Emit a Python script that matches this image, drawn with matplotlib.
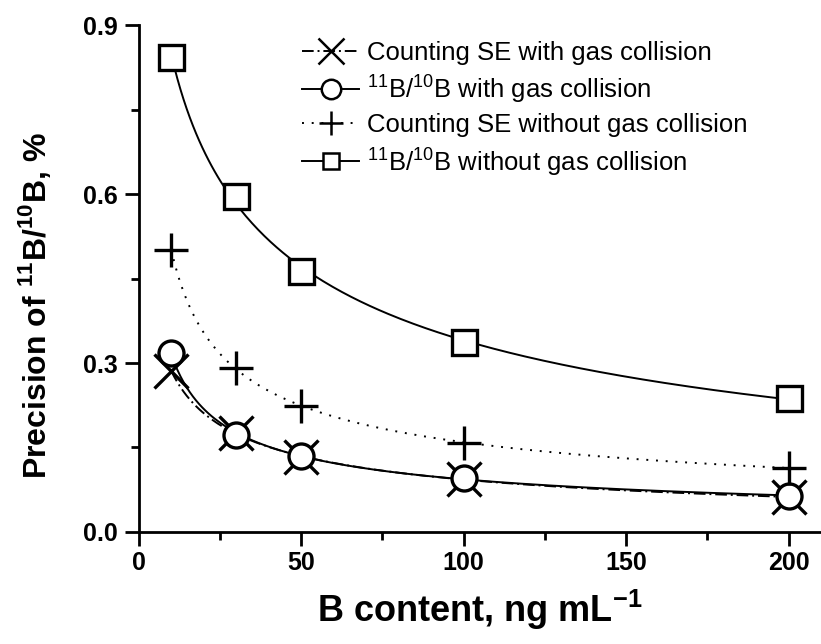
import numpy as np
import matplotlib

matplotlib.use("Agg")
import matplotlib.pyplot as plt

plt.rcParams["font.family"] = ["Liberation Sans", "DejaVu Sans"]
plt.rcParams["mathtext.fontset"] = "custom"
plt.rcParams["mathtext.rm"] = "Liberation Sans"
plt.rcParams["mathtext.bf"] = "Liberation Sans:bold"

conc = [10, 30, 50, 100, 200]
se_gas = [0.286, 0.175, 0.133, 0.094, 0.062]
ratio_gas = [0.318, 0.172, 0.135, 0.096, 0.064]
se_nogas = [0.500, 0.291, 0.224, 0.158, 0.114]
ratio_nogas = [0.843, 0.596, 0.464, 0.337, 0.237]

labels = [
    "Counting SE with gas collision",
    r"$^{11}$B/$^{10}$B with gas collision",
    "Counting SE without gas collision",
    r"$^{11}$B/$^{10}$B without gas collision",
]


def smooth(x, y):
    # quadratic fit in log-log space, drawn as a smooth curve
    lx, ly = np.log(x), np.log(y)
    c = np.polyfit(lx, ly, 2)
    xs = np.linspace(min(x), max(x), 200)
    return xs, np.exp(np.polyval(c, np.log(xs)))


fig = plt.figure(figsize=(8.21, 6.44), dpi=100)
ax = fig.add_axes([0.169, 0.174, 0.831, 0.787])

series = [
    (se_gas, "x", (0, (6, 2, 1, 2)), "none", 25, 19),
    (ratio_gas, "o", "-", "white", 18, 14),
    (se_nogas, "+", (0, (1, 4)), "none", 24, 17),
    (ratio_nogas, "s", "-", "white", 18, 12),
]

handles = []
for (vals, m, ls, fc, ms, lms), lab in zip(series, labels):
    xs, ys = smooth(conc, vals)
    ax.plot(xs, ys, color="black", lw=1.4, ls=ls)
    ax.plot(conc, vals, ls="none", marker=m, ms=ms, mfc=fc, mec="black", mew=2.4)
    h, = ax.plot([], [], color="black", lw=1.4, ls=ls, marker=m, ms=lms,
                 mfc=fc, mec="black", mew=1.8, label=lab)
    handles.append(h)

ax.set_xlim(0, 210)
ax.set_ylim(0, 0.9)
ax.set_xticks([0, 50, 100, 150, 200])
ax.set_xticks([25, 75, 125, 175], minor=True)
ax.set_yticks([0.0, 0.3, 0.6, 0.9])
ax.set_yticks([0.15, 0.45, 0.75], minor=True)
ax.set_yticklabels(["0.0", "0.3", "0.6", "0.9"])

for side in ["top", "right"]:
    ax.spines[side].set_visible(False)
for side in ["left", "bottom"]:
    ax.spines[side].set_linewidth(2)

ax.tick_params(which="major", direction="out", length=10, width=2, labelsize=18)
ax.tick_params(which="minor", direction="out", length=6, width=2)
ax.tick_params(axis="y", pad=5)
for t in ax.get_xticklabels() + ax.get_yticklabels():
    t.set_fontweight("bold")

ax.set_xlabel(r"B content, ng mL$^{\mathbf{-1}}$", fontsize=26, fontweight="bold")
ax.set_ylabel(r"Precision of $^{\mathbf{11}}$B/$^{\mathbf{10}}$B, %", fontsize=23, fontweight="bold")
ax.xaxis.set_label_coords(0.5, -0.11)
ax.yaxis.set_label_coords(-0.125, 0.446)

leg = ax.legend(handles=handles, loc="upper left", bbox_to_anchor=(0.206, 1.015), frameon=False,
                fontsize=18.5, handlelength=2.2, handletextpad=0.3, labelspacing=0.3)

fig.savefig("out.png", dpi=100)
